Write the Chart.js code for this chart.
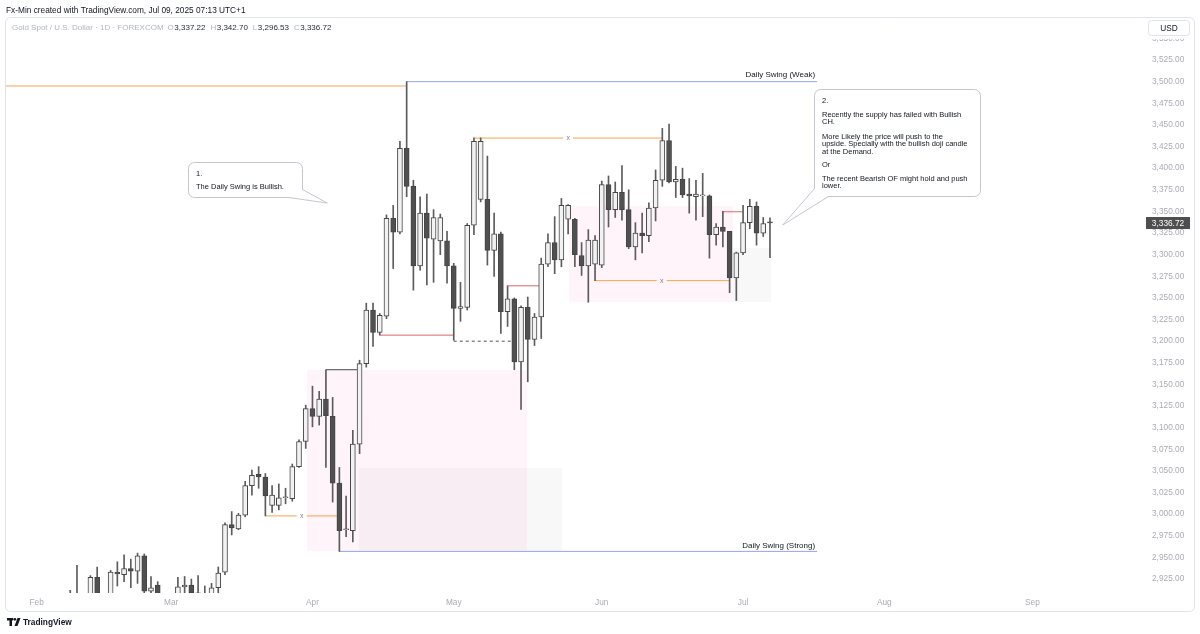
<!DOCTYPE html>
<html>
<head>
<meta charset="utf-8">
<title>Gold Spot / U.S. Dollar - 1D - FOREXCOM</title>
<script src="https://cdn.jsdelivr.net/npm/chart.js@4.4.1/dist/chart.umd.min.js"></script>
<style>
  html, body { margin: 0; padding: 0; background: #fff; }
  canvas { display: block; }
</style>
</head>
<body>
<canvas id="chart" width="1200" height="634"></canvas>
<script>
// bar index 0 = Feb 11 2025, one bar per trading day
const firstBar = -1;
const opens = [
  2885, 2905, 2898, 2905, 2927, 2883, 2899, 2933, 2930, 2937, 2934, 2952, 2911, 2918, 2876, 2858,
  2893, 2916, 2918, 2909, 2906, 2889, 2915, 2933, 2988, 2983, 2999, 3033, 3046, 3043, 3010, 3010,
  3019, 3018, 3055, 3084, 3122, 3113, 3133, 3113, 3036, 2982, 2981, 3081, 3174, 3236, 3210, 3229,
  3342, 3326, 3423, 3379, 3287, 3348, 3318, 3316, 3316, 3287, 3238, 3239, 3334, 3364, 3364, 3305,
  3324, 3234, 3249, 3176, 3239, 3202, 3228, 3289, 3314, 3294, 3341, 3341, 3299, 3287, 3289, 3288,
  3381, 3352, 3372, 3352, 3309, 3325, 3322, 3354, 3386, 3432, 3384, 3387, 3370, 3367, 3368, 3368,
  3323, 3332, 3327, 3273, 3302, 3337, 3356, 3325, 3337.22
];
const highs = [
  2912, 2941, 2908, 2929, 2939, 2905, 2935, 2945, 2953, 2948, 2955, 2954, 2928, 2922, 2882, 2897,
  2927, 2928, 2925, 2929, 2917, 2920, 2939, 2990, 3003, 3001, 3038, 3051, 3055, 3047, 3033, 3035,
  3030, 3058, 3086, 3126, 3148, 3142, 3167, 3135, 3054, 3021, 3097, 3178, 3244, 3244, 3232, 3346,
  3357, 3431, 3500, 3386, 3367, 3370, 3352, 3347, 3327, 3290, 3268, 3336, 3435, 3435, 3414, 3348,
  3326, 3264, 3250, 3241, 3251, 3232, 3296, 3324, 3344, 3365, 3358, 3342, 3314, 3329, 3322, 3385,
  3391, 3384, 3403, 3375, 3337, 3348, 3360, 3398, 3446, 3451, 3402, 3400, 3388, 3386, 3394, 3369,
  3336, 3350, 3327, 3303, 3357, 3364, 3361, 3343, 3342.70
];
const lows = [
  2870, 2880, 2885, 2900, 2877, 2879, 2896, 2917, 2922, 2915, 2920, 2890, 2895, 2875, 2833, 2858,
  2890, 2895, 2894, 2896, 2880, 2885, 2906, 2930, 2976, 2982, 2997, 3022, 3030, 2998, 3002, 3005,
  3012, 3015, 3054, 3076, 3101, 3103, 3054, 3014, 2957, 2974, 2968, 3070, 3170, 3194, 3207, 3226,
  3284, 3324, 3367, 3259, 3282, 3265, 3268, 3300, 3267, 3201, 3223, 3236, 3323, 3361, 3288, 3275,
  3209, 3217, 3167, 3121, 3153, 3195, 3203, 3286, 3278, 3286, 3324, 3286, 3276, 3245, 3270, 3285,
  3332, 3343, 3340, 3307, 3294, 3302, 3315, 3339, 3379, 3383, 3366, 3366, 3348, 3340, 3344, 3296,
  3311, 3309, 3256, 3247, 3300, 3330, 3311, 3321, 3296.53
];
const closes = [
  2895, 2898, 2905, 2927, 2883, 2899, 2933, 2931, 2937, 2934, 2952, 2911, 2915, 2877, 2858, 2893,
  2916, 2918, 2909, 2906, 2889, 2915, 2932, 2988, 2984, 2999, 3033, 3045, 3043, 3021, 3022, 3019,
  3020, 3055, 3084, 3122, 3113, 3133, 3114, 3036, 2981, 2983, 3081, 3174, 3236, 3210, 3230, 3342,
  3326, 3423, 3379, 3287, 3348, 3319, 3343, 3343, 3287, 3238, 3240, 3334, 3431, 3431, 3305, 3324,
  3234, 3249, 3176, 3239, 3202, 3228, 3289, 3314, 3294, 3357, 3357, 3300, 3287, 3317, 3317, 3381,
  3352, 3372, 3352, 3309, 3325, 3322, 3354, 3386, 3432, 3384, 3387, 3369, 3368, 3370, 3368.5, 3323,
  3332, 3327, 3273, 3302, 3337, 3356, 3325, 3336, 3336.72
];

// month labels sit on the first bar of each month
const monthLabels = ["Feb", "Mar", "Apr", "May", "Jun", "Jul", "Aug", "Sep"];
const monthBars = [-6, 14, 35, 56, 78, 99, 120, 142];

// drawn levels: start bar, end bar, price, kind
const levelFrom  = [-10.6, 49, 39, 59, 77, 28, 45, 56, 64, 96, 37];
const levelTo    = [49, 110, 110, 87, 97, 39, 56, 65, 69, 99, 42];
const levelPrice = [3495, 3500, 2957, 3434.8, 3270, 2998, 3207, 3200, 3264, 3349.6, 3167];
const levelKind  = ["orange", "blue", "blue", "orange", "orange", "orange", "red", "dash", "red", "red", "gray"];

// "x" marks on the broken levels
const markBars   = [73, 86.9, 33.4];
const markPrices = [3434.8, 3270, 2998];

// supply / demand zones: start bar, end bar, top price, bottom price
const zoneFrom   = [34.2, 73.1, 41.9, 97.5];
const zoneTo     = [66.9, 97.5, 72.1, 103.2];
const zoneTop    = [3167, 3356, 3053, 3308];
const zoneBottom = [2957, 3245, 2957, 3245];
const zoneKind   = ["pink", "pink", "gray", "gray"];

const FONT = '"Liberation Sans", Arial, sans-serif';
const bullFill = "#f2f2f2";
const bearFill = "#505050";
const candleEdge = "#454545";
const wickColor = "#5c5c5c";

const levelStyle = {
  orange: { color: "#f5a54a", dash: [] },
  blue: { color: "#8fa8e8", dash: [] },
  red: { color: "#e0646c", dash: [] },
  dash: { color: "#555555", dash: [3, 3] },
  gray: { color: "#4a4a4a", dash: [] },
};
const zoneColor = { pink: "rgba(233, 30, 140, 0.05)", gray: "rgba(90, 60, 80, 0.035)" };

const bodies = opens.map((o, i) => ({ x: firstBar + i, y: [o, closes[i]] }));
const wicks = lows.map((l, i) => ({ x: firstBar + i, y: [l, highs[i]] }));

const levelSets = levelFrom.map((f, i) => ({
  type: "line",
  data: [{ x: f, y: levelPrice[i] }, { x: levelTo[i], y: levelPrice[i] }],
  borderColor: levelStyle[levelKind[i]].color,
  borderDash: levelStyle[levelKind[i]].dash,
  borderWidth: 1,
  pointRadius: 0,
  fill: false,
  order: 3,
}));

const notes = [
  {
    bar: 16.5, price: 3407, w: 114, h: 35, tipBar: 37.2, tipPrice: 3359.7, corner: "br",
    lines: [["1.", 11], ["The Daily Swing is Bullish.", 24]],
  },
  {
    bar: 109.5, price: 3491.5, w: 166, h: 107, tipBar: 104.9, tipPrice: 3334.3, corner: "bl",
    lines: [
      ["2.", 11],
      ["Recently the supply has failed with Bullish", 25],
      ["CH.", 32.5],
      ["More Likely the price will push to the", 47],
      ["upside. Specially with the bullish doji candle", 54.5],
      ["at the Demand.", 62],
      ["Or", 75],
      ["The recent Bearish OF might hold and push", 89],
      ["lower.", 96.5],
    ],
  },
];

function roundRect(ctx, x, y, w, h, r) {
  ctx.beginPath();
  ctx.moveTo(x + r, y);
  ctx.arcTo(x + w, y, x + w, y + h, r);
  ctx.arcTo(x + w, y + h, x, y + h, r);
  ctx.arcTo(x, y + h, x, y, r);
  ctx.arcTo(x, y, x + w, y, r);
  ctx.closePath();
}

function drawNote(ctx, n, xs, ys) {
  const left = Math.round(xs.getPixelForValue(n.bar)) + 0.5;
  const top = Math.round(ys.getPixelForValue(n.price)) + 0.5;
  const tip = [xs.getPixelForValue(n.tipBar), ys.getPixelForValue(n.tipPrice)];
  const bottom = top + n.h;
  let b1, b2, inner;
  if (n.corner === "br") {
    b1 = [left + n.w - 14, bottom];
    b2 = [left + n.w, bottom - 8];
    inner = [left + n.w - 2, bottom - 2];
  } else {
    b1 = [left + 14, bottom];
    b2 = [left, bottom - 8];
    inner = [left + 2, bottom - 2];
  }
  ctx.lineWidth = 1;
  ctx.strokeStyle = "#c4c7cf";
  ctx.fillStyle = "#ffffff";
  roundRect(ctx, left, top, n.w, n.h, 6);
  ctx.fill();
  ctx.stroke();

  ctx.beginPath();
  ctx.moveTo(b1[0], b1[1]);
  ctx.lineTo(tip[0], tip[1]);
  ctx.lineTo(b2[0], b2[1]);
  ctx.lineTo(inner[0], inner[1]);
  ctx.closePath();
  ctx.fill();
  ctx.beginPath();
  ctx.moveTo(b1[0], b1[1]);
  ctx.lineTo(tip[0], tip[1]);
  ctx.lineTo(b2[0], b2[1]);
  ctx.stroke();

  ctx.fillStyle = "#131722";
  ctx.font = "7.5px " + FONT;
  ctx.textAlign = "left";
  ctx.textBaseline = "middle";
  n.lines.forEach(([t, dy]) => ctx.fillText(t, left + 7.5, top + dy));
}

const decor = {
  id: "decor",
  beforeDatasetsDraw(chart) {
    const { ctx, chartArea: a, scales } = chart;
    ctx.save();
    ctx.beginPath();
    ctx.rect(a.left, a.top, a.right - a.left, a.bottom - a.top);
    ctx.clip();
    zoneFrom.forEach((f, i) => {
      const x0 = Math.round(scales.x.getPixelForValue(f));
      const x1 = Math.round(scales.x.getPixelForValue(zoneTo[i]));
      const y0 = Math.round(scales.y.getPixelForValue(zoneTop[i]));
      const y1 = Math.round(scales.y.getPixelForValue(zoneBottom[i]));
      ctx.fillStyle = zoneColor[zoneKind[i]];
      ctx.fillRect(x0, y0, x1 - x0, y1 - y0);
    });
    ctx.restore();
  },
  afterDatasetsDraw(chart) {
    const { ctx, scales } = chart;
    const xs = scales.x, ys = scales.y;
    ctx.save();

    // x marks on levels
    ctx.font = "7px " + FONT;
    ctx.textAlign = "center";
    ctx.textBaseline = "middle";
    markBars.forEach((b, i) => {
      const px = xs.getPixelForValue(b), py = ys.getPixelForValue(markPrices[i]);
      const inZone = zoneFrom.some((f, j) => zoneKind[j] === "pink" && b >= f && b <= zoneTo[j] &&
        markPrices[i] <= zoneTop[j] && markPrices[i] >= zoneBottom[j]);
      ctx.fillStyle = inZone ? "#fdf3f9" : "#ffffff";
      ctx.fillRect(px - 5, py - 3, 10, 6);
      ctx.fillStyle = "#80838c";
      ctx.fillText("x", px, py);
    });

    // swing labels
    ctx.font = "8px " + FONT;
    ctx.fillStyle = "#131722";
    ctx.textAlign = "right";
    ctx.fillText("Daily Swing (Weak)", xs.getPixelForValue(levelTo[1]) - 2, ys.getPixelForValue(levelPrice[1]) - 6.5);
    ctx.fillText("Daily Swing (Strong)", xs.getPixelForValue(levelTo[2]) - 2, ys.getPixelForValue(levelPrice[2]) - 5.5);

    notes.forEach((n) => drawNote(ctx, n, xs, ys));
    ctx.restore();
  },
  afterDraw(chart) {
    const { ctx, scales } = chart;
    ctx.save();
    ctx.textBaseline = "middle";
    ctx.textAlign = "left";

    // the top price label sits under the currency button
    ctx.fillStyle = "#ffffff";
    ctx.fillRect(1146, 18, 48, 21);

    // outer frame
    ctx.strokeStyle = "#e0e3eb";
    ctx.lineWidth = 1;
    roundRect(ctx, 5.5, 17.5, 1189, 594, 5);
    ctx.stroke();

    // credit line
    ctx.font = "8.3px " + FONT;
    ctx.fillStyle = "#131722";
    ctx.fillText("Fx-Min created with TradingView.com, Jul 09, 2025 07:13 UTC+1", 6, 11);

    // legend
    ctx.font = "8px " + FONT;
    let px = 12;
    const title = "Gold Spot / U.S. Dollar \u00b7 1D \u00b7 FOREXCOM";
    ctx.fillStyle = "#b2b5be";
    ctx.fillText(title, px, 27.5);
    px += ctx.measureText(title).width + 4;
    const ohlc = [["O", opens], ["H", highs], ["L", lows], ["C", closes]];
    ohlc.forEach(([k, arr]) => {
      const v = arr[arr.length - 1].toLocaleString("en-US", { minimumFractionDigits: 2 });
      ctx.fillStyle = "#b2b5be";
      ctx.fillText(k, px, 27.5);
      px += ctx.measureText(k).width + 0.5;
      ctx.fillStyle = "#2a2e39";
      ctx.fillText(v, px, 27.5);
      px += ctx.measureText(v).width + 5;
    });

    // last price tag
    const last = closes[closes.length - 1];
    const py = Math.round(scales.y.getPixelForValue(last));
    ctx.fillStyle = "#4f4f4f";
    ctx.fillRect(1146, py - 6, 44, 12);
    ctx.fillStyle = "#ffffff";
    ctx.textAlign = "center";
    ctx.font = "8.3px " + FONT;
    ctx.fillText(last.toLocaleString("en-US", { minimumFractionDigits: 2 }), 1168, py + 0.5);

    // currency button
    ctx.fillStyle = "#ffffff";
    ctx.strokeStyle = "#e0e3eb";
    roundRect(ctx, 1148.5, 20.5, 41, 15, 3);
    ctx.fill();
    ctx.stroke();
    ctx.fillStyle = "#131722";
    ctx.fillText("USD", 1169, 28.5);

    // footer logo
    ctx.fillStyle = "#131722";
    ctx.fillRect(7, 618, 6, 2.5);
    ctx.fillRect(9.5, 618, 2.5, 8);
    ctx.beginPath();
    ctx.arc(14.8, 619.3, 1.4, 0, Math.PI * 2);
    ctx.fill();
    ctx.beginPath();
    ctx.moveTo(17.5, 618);
    ctx.lineTo(20.5, 618);
    ctx.lineTo(17.5, 626);
    ctx.lineTo(14.5, 626);
    ctx.closePath();
    ctx.fill();
    ctx.textAlign = "left";
    ctx.font = "bold 8.3px " + FONT;
    ctx.fillText("TradingView", 23, 622.5);
    ctx.restore();
  },
};

new Chart(document.getElementById("chart"), {
  type: "bar",
  data: {
    datasets: [
      {
        label: "body",
        data: bodies,
        grouped: false,
        order: 1,
        barThickness: 5,
        minBarLength: 1,
        borderWidth: 1,
        borderSkipped: false,
        borderColor: candleEdge,
        backgroundColor: (c) => {
          const i = c.dataIndex;
          return closes[i] >= opens[i] ? bullFill : bearFill;
        },
      },
      {
        label: "wick",
        data: wicks,
        grouped: false,
        order: 2,
        barThickness: 1,
        backgroundColor: wickColor,
        borderWidth: 0,
      },
      ...levelSets,
    ],
  },
  options: {
    responsive: false,
    animation: false,
    devicePixelRatio: 1,
    events: [],
    layout: { padding: { left: 6, top: 18, right: 6, bottom: 23 } },
    plugins: { legend: { display: false }, tooltip: { enabled: false } },
    scales: {
      x: {
        type: "linear",
        min: -10.55,
        max: 158.74,
        offset: false,
        grid: { display: false, drawTicks: false },
        border: { display: false },
        afterBuildTicks: (axis) => {
          axis.ticks = monthBars.map((v) => ({ value: v }));
        },
        afterFit: (axis) => {
          axis.height = 18;
        },
        ticks: {
          autoSkip: false,
          maxRotation: 0,
          padding: 5,
          color: "#a9acb4",
          font: { family: FONT, size: 8.3 },
          callback: (v) => monthLabels[monthBars.indexOf(v)],
        },
      },
      y: {
        position: "right",
        min: 2908.9,
        max: 3573.6,
        grid: { display: false, drawTicks: false },
        border: { display: false },
        afterFit: (axis) => {
          axis.width = 49;
        },
        ticks: {
          stepSize: 25,
          includeBounds: false,
          padding: 7,
          color: "#a9acb4",
          font: { family: FONT, size: 8.3 },
          callback: (v) => v.toLocaleString("en-US", { minimumFractionDigits: 2 }),
        },
      },
    },
  },
  plugins: [decor],
});
</script>
</body>
</html>
